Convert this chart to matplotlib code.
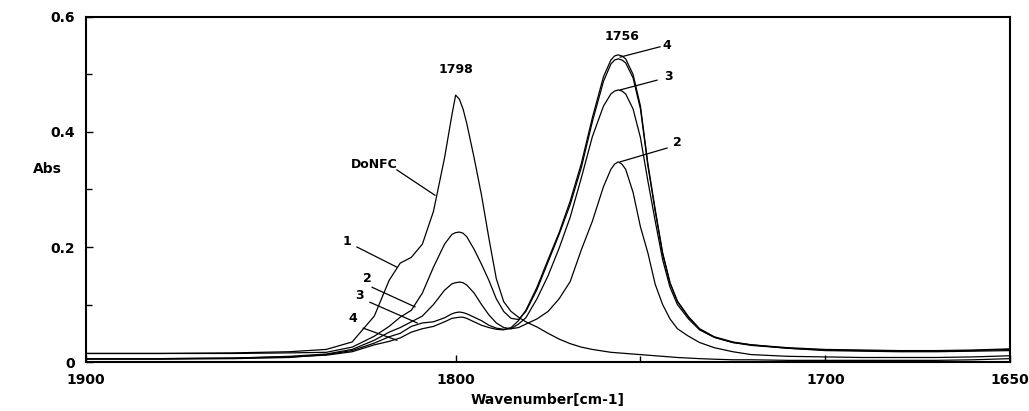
import matplotlib
matplotlib.use('Agg')
import matplotlib.pyplot as plt
import numpy as np

plt.rcParams['font.family'] = ['DejaVu Sans']
plt.rcParams['font.weight'] = 'bold'

wn = [1900, 1880, 1860, 1845, 1835, 1828, 1822, 1818, 1815, 1812, 1809, 1806, 1803, 1801, 1800,
      1799, 1798, 1797, 1795, 1793, 1791, 1789, 1787, 1785, 1783, 1781, 1778, 1775, 1772, 1769,
      1766, 1763, 1760, 1758, 1757, 1756, 1755, 1754, 1752, 1750, 1748, 1746, 1744, 1742, 1740, 1737,
      1734, 1730, 1725, 1720, 1710, 1700, 1690, 1680, 1670, 1660, 1650]

donfc = [0.015, 0.015, 0.016, 0.018, 0.022, 0.035, 0.080, 0.142, 0.172, 0.182, 0.205, 0.262, 0.355, 0.430, 0.464,
         0.457, 0.440, 0.415, 0.355, 0.290, 0.215, 0.145, 0.105, 0.088, 0.078, 0.070, 0.061, 0.050, 0.040, 0.032,
         0.026, 0.022, 0.019, 0.017, 0.0165, 0.016, 0.0155, 0.015, 0.014, 0.013, 0.012, 0.011, 0.010, 0.009, 0.008, 0.007,
         0.006, 0.005, 0.004, 0.004, 0.003, 0.003, 0.003, 0.003, 0.003, 0.004, 0.006]

s1 = [0.015, 0.015, 0.015, 0.016, 0.017, 0.026, 0.045, 0.062, 0.078, 0.090, 0.120, 0.165, 0.205, 0.222, 0.225,
      0.226, 0.224, 0.218, 0.196, 0.170, 0.142, 0.110, 0.088, 0.076, 0.074, 0.088, 0.126, 0.174, 0.222, 0.274,
      0.338, 0.418, 0.488, 0.518, 0.525, 0.527, 0.525, 0.520, 0.494, 0.440, 0.342, 0.262, 0.188, 0.137, 0.105, 0.078,
      0.057, 0.043, 0.034, 0.029, 0.024, 0.021, 0.020, 0.019, 0.019, 0.020, 0.022]

s2 = [0.006, 0.006, 0.007, 0.010, 0.014, 0.022, 0.038, 0.052, 0.060, 0.070, 0.080, 0.100, 0.125, 0.136, 0.138,
      0.139, 0.138, 0.134, 0.120, 0.100, 0.082, 0.068, 0.060, 0.058, 0.060, 0.066, 0.075, 0.088, 0.110, 0.140,
      0.195, 0.245, 0.305, 0.335, 0.344, 0.348, 0.344, 0.335, 0.295, 0.235, 0.190, 0.135, 0.100, 0.075, 0.058, 0.045,
      0.034, 0.025, 0.018, 0.013, 0.010, 0.009, 0.008, 0.008, 0.008, 0.009, 0.011]

s3 = [0.005, 0.005, 0.006, 0.008, 0.013, 0.020, 0.033, 0.044, 0.050, 0.062, 0.068, 0.070, 0.077, 0.084, 0.086,
      0.087, 0.086, 0.084, 0.078, 0.072, 0.064, 0.059, 0.057, 0.058, 0.066, 0.077, 0.110, 0.150, 0.198, 0.252,
      0.320, 0.392, 0.445, 0.466, 0.471, 0.473, 0.471, 0.466, 0.440, 0.390, 0.315, 0.245, 0.178, 0.130, 0.100, 0.075,
      0.056, 0.043, 0.034, 0.030, 0.024, 0.020, 0.019, 0.018, 0.018, 0.019, 0.020]

s4 = [0.006, 0.006, 0.007, 0.009, 0.012, 0.018, 0.030, 0.036, 0.042, 0.052, 0.058, 0.062, 0.070, 0.076, 0.077,
      0.078, 0.078, 0.076, 0.070, 0.064, 0.060, 0.057, 0.056, 0.060, 0.072, 0.090, 0.130, 0.178, 0.225, 0.280,
      0.345, 0.425, 0.496, 0.525, 0.532, 0.534, 0.532, 0.527, 0.500, 0.445, 0.345, 0.265, 0.190, 0.138, 0.106, 0.079,
      0.058, 0.044, 0.035, 0.030, 0.025, 0.022, 0.021, 0.020, 0.020, 0.021, 0.023]

fig = plt.figure(figsize=(10.29, 4.11), dpi=100)
ax = fig.add_axes([0.0836, 0.119, 0.898, 0.840])

for s in [donfc, s1, s2, s3, s4]:
    ax.plot(wn, s, color='black', lw=0.9)

ax.set_xlim(1900, 1650)
ax.set_ylim(0, 0.6)
ax.set_xticks([1900, 1800, 1700, 1650])
ax.set_xticks([1750], minor=True)
ax.set_yticks([0, 0.2, 0.4, 0.6])
ax.set_yticklabels(['0', '0.2', '0.4', '0.6'])
ax.set_yticks([0.1, 0.3, 0.5], minor=True)
ax.tick_params(direction='in', length=5, width=1, labelsize=10, pad=8)
ax.tick_params(which='minor', direction='in', length=4, width=1)
for sp in ax.spines.values():
    sp.set_linewidth(1.5)

ax.set_xlabel('Wavenumber[cm-1]', fontsize=10, fontweight='bold', labelpad=4)
ax.set_ylabel('Abs', fontsize=10, fontweight='bold', rotation=0)
ax.yaxis.set_label_coords(-0.042, 0.54)

ax.text(1799.9, 0.508, '1798', fontsize=9, ha='center', va='center')
ax.text(1755, 0.565, '1756', fontsize=9, ha='center', va='center')

labels = [
    ('4', (1742.8, 0.551), (1755.5, 0.530), (1744.7, 0.548)),
    ('3', (1742.5, 0.496), (1755.5, 0.473), (1745.5, 0.490)),
    ('2', (1740.1, 0.381), (1755.5, 0.348), (1742.8, 0.372)),
    ('DoNFC', (1822.1, 0.344), (1805.6, 0.290), (1815.9, 0.334)),
    ('1', (1829.4, 0.209), (1815.9, 0.165), (1826.7, 0.200)),
    ('2', (1824.0, 0.146), (1811.0, 0.096), (1822.6, 0.130)),
    ('3', (1826.1, 0.115), (1810.4, 0.068), (1823.2, 0.104)),
    ('4', (1827.8, 0.075), (1815.9, 0.038), (1825.0, 0.059)),
]
for txt, tpos, p0, p1 in labels:
    ax.text(tpos[0], tpos[1], txt, fontsize=9, ha='center', va='center')
    ax.plot([p0[0], p1[0]], [p0[1], p1[1]], color='black', lw=0.9)

fig.savefig('out.png', dpi=100)
